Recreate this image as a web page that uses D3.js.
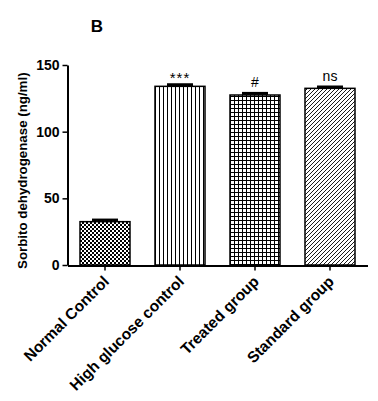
<!DOCTYPE html>
<html><head><meta charset="utf-8">
<script src="https://cdn.jsdelivr.net/npm/d3@7"></script>
<style>body{margin:0;background:#fff}svg{display:block}text{font-family:Arial,"Liberation Sans",sans-serif}</style>
</head><body>
<svg id="c" width="378" height="401"></svg>
<script>
const categories = ["Normal Control","High glucose control","Treated group","Standard group"];
const means = [32.5, 134, 127.5, 132.5];
const errors = [1.2, 1.2, 1.2, 1.0];
const annotations = ["", "***", "#", "ns"];
const patterns = ["checker","vlines","grid","diag"];
const yTicks = [0, 50, 100, 150];
const panelLabel = "B";
const yLabel = "Sorbito dehydrogenase (ng/ml)";

const svg = d3.select("#c");
const x = d3.scaleBand().domain(categories).range([67.5, 367.5]).paddingInner(0.3333).paddingOuter(0.1667);
const y = d3.scaleLinear().domain([0, 150]).range([265, 65]);

const defs = svg.append("defs");
const p1 = defs.append("pattern").attr("id","checker").attr("patternUnits","userSpaceOnUse").attr("width",4).attr("height",4);
p1.append("rect").attr("width",4).attr("height",4).attr("fill","#fff");
p1.append("rect").attr("width",2).attr("height",2).attr("fill","#000");
p1.append("rect").attr("x",2).attr("y",2).attr("width",2).attr("height",2).attr("fill","#000");
const p2 = defs.append("pattern").attr("id","vlines").attr("patternUnits","userSpaceOnUse").attr("width",4).attr("height",4).attr("x",x(categories[1]));
p2.append("rect").attr("width",4).attr("height",4).attr("fill","#fff");
p2.append("rect").attr("x",0).attr("width",1).attr("height",4).attr("fill","#000");
const p3 = defs.append("pattern").attr("id","grid").attr("patternUnits","userSpaceOnUse").attr("width",4).attr("height",4).attr("x",x(categories[2]));
p3.append("rect").attr("width",4).attr("height",4).attr("fill","#fff");
p3.append("rect").attr("width",1).attr("height",4).attr("fill","#000");
p3.append("rect").attr("width",4).attr("height",1).attr("fill","#000");
const p4 = defs.append("pattern").attr("id","diag").attr("patternUnits","userSpaceOnUse").attr("width",4).attr("height",4);
p4.append("rect").attr("width",4).attr("height",4).attr("fill","#fff");
p4.append("path").attr("d","M-1,1 l2,-2 M0,4 l4,-4 M3,5 l2,-2").attr("stroke","#000").attr("stroke-width",0.9);

svg.append("g").selectAll("rect").data(categories).join("rect")
  .attr("x", d => x(d)).attr("width", x.bandwidth())
  .attr("y", (d,i) => y(means[i])).attr("height", (d,i) => y(0) - y(means[i]))
  .attr("fill", (d,i) => `url(#${patterns[i]})`)
  .attr("stroke","#000").attr("stroke-width",1.5);

const eg = svg.append("g");
categories.forEach((c,i) => {
  const cx = x(c) + x.bandwidth()/2;
  eg.append("line").attr("x1",cx).attr("x2",cx).attr("y1",y(means[i])).attr("y2",y(means[i]+errors[i])).attr("stroke","#000").attr("stroke-width",1.5);
  eg.append("line").attr("x1",cx-13).attr("x2",cx+13).attr("y1",y(means[i]+errors[i])).attr("y2",y(means[i]+errors[i])).attr("stroke","#000").attr("stroke-width",3);
  if (annotations[i]) {
    eg.append("text").attr("x",cx).attr("y",y(means[i]+errors[i]) - (annotations[i]==="***" ? 2 : 6))
      .attr("text-anchor","middle").attr("font-size", annotations[i]==="***" ? 15 : 14)
      .attr("letter-spacing", annotations[i]==="***" ? 1 : 0)
      .text(annotations[i]);
  }
});

const ya = svg.append("g").attr("transform","translate(67.5,0)")
  .call(d3.axisLeft(y).tickValues(yTicks).tickSize(5).tickSizeOuter(0).tickPadding(3));
ya.select(".domain").attr("stroke-width",2);
ya.selectAll(".tick line").attr("stroke-width",1.5);
ya.selectAll(".tick text").attr("font-size",14).attr("font-weight","bold").attr("font-family","Arial, 'Liberation Sans', sans-serif").attr("fill","#000");

const xa = svg.append("g").attr("transform","translate(0,265.5)")
  .call(d3.axisBottom(x).tickSize(5).tickSizeOuter(0));
xa.select(".domain").attr("stroke-width",2);
xa.selectAll(".tick line").attr("stroke-width",1.5);
xa.selectAll(".tick text")
  .attr("font-size",15.5).attr("font-weight","bold").attr("font-family","Arial, 'Liberation Sans', sans-serif").attr("fill","#000")
  .attr("text-anchor","end").attr("y",0).attr("dy",0)
  .attr("transform","translate(5,17) rotate(-45)");

svg.append("text").attr("x",97).attr("y",32).attr("text-anchor","middle")
  .attr("font-size",17).attr("font-weight","bold").text(panelLabel);

svg.append("text").attr("transform","translate(27,170.7) rotate(-90)")
  .attr("text-anchor","middle").attr("font-size",13.3).attr("font-weight","bold").text(yLabel);
</script>
</body></html>
